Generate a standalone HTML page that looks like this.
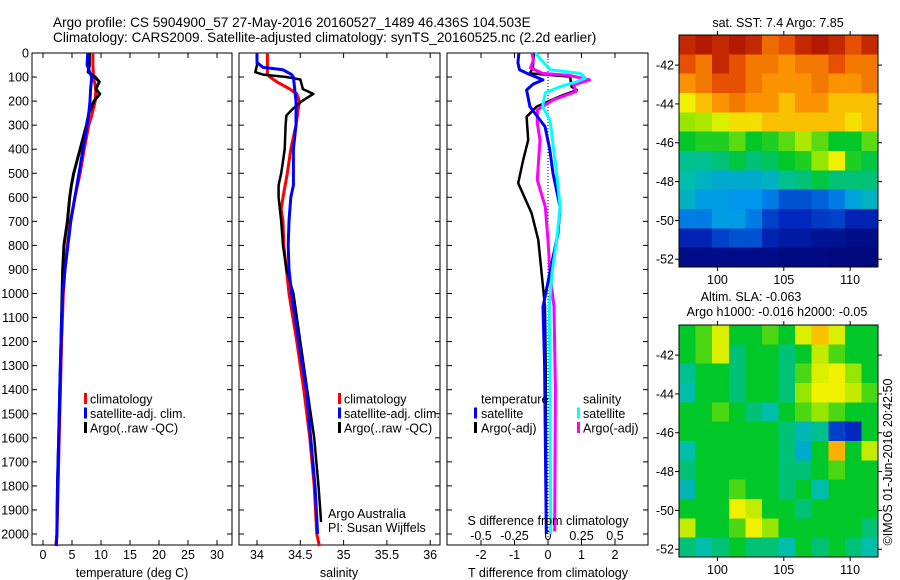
<!DOCTYPE html>
<html><head><meta charset="utf-8"><style>
body{margin:0;background:#fff;}
svg{display:block;font-family:"Liberation Sans",sans-serif;}
text{fill:#000;}
</style></head><body>
<svg id="c" width="900" height="580" viewBox="0 0 900 580" xmlns="http://www.w3.org/2000/svg">
<text x="53" y="27" font-size="13.6">Argo profile: CS 5904900_57 27-May-2016 20160527_1489 46.436S 104.503E</text>
<text x="53" y="42" font-size="13.6">Climatology: CARS2009. Satellite-adjusted climatology: synTS_20160525.nc (2.2d earlier)</text>
<g id="g"></g>
</svg>
<script>
// ---------- data ----------
const depthTicks=[0,100,200,300,400,500,600,700,800,900,1000,1100,1200,1300,1400,1500,1600,1700,1800,1900,2000];
const tempTicks=[0,5,10,15,20,25,30];
const salTicks=[34,34.5,35,35.5,36];
const salTickLabels=["34","34.5","35","35.5","36"];
const tdiffTicks=[-2,-1,0,1,2];
const sdiffTicks=[-0.5,-0.25,0,0.25,0.5];
const sdiffTickLabels=["-0.5","-0.25","0","0.25","0.5"];

const climDepth=[0,50,100,150,200,250,300,400,500,600,700,800,900,1000,1200,1400,1600,1800,2000,2050];
const tempClim=[8.6,8.6,8.7,9.1,9.0,8.5,7.9,7.1,6.4,5.5,4.7,4.2,3.8,3.5,3.2,3.0,2.8,2.6,2.4,2.2];
const tempSat=[7.7,7.6,8.4,8.2,8.1,7.9,7.6,6.9,6.2,5.5,4.8,4.3,3.8,3.4,3.1,2.9,2.7,2.5,2.4,2.3];
const argoDepth=[0,50,80,100,120,150,170,200,250,300,400,500,550,600,700,800,900,1000,1200,1400,1600,1800,1990];
const tempArgo=[8.0,8.0,7.8,9.0,9.7,9.1,9.8,8.8,7.9,7.5,6.4,5.3,4.9,4.6,4.2,3.6,3.4,3.3,3.1,2.9,2.7,2.5,2.4];

const salClimDepth=[0,90,100,120,150,170,200,250,300,400,500,600,650,700,800,900,1000,1200,1400,1600,1800,2000,2050];
const salClim=[34.12,34.12,34.15,34.23,34.38,34.46,34.49,34.47,34.45,34.39,34.35,34.30,34.28,34.30,34.31,34.34,34.37,34.46,34.54,34.61,34.66,34.69,34.72];
const salSatDepth=[0,40,60,70,90,100,200,300,400,500,550,600,700,800,900,1000,1200,1400,1600,1800,2000];
const salSat=[34.0,34.0,34.07,34.3,34.4,34.42,34.45,34.45,34.42,34.42,34.42,34.39,34.37,34.36,34.37,34.40,34.48,34.57,34.62,34.67,34.70];
const salArgoDepth=[0,50,80,90,100,110,150,170,200,230,260,300,400,450,500,550,600,700,800,900,1000,1200,1400,1600,1800,1950];
const salArgo=[34.0,34.0,33.98,34.07,34.34,34.50,34.53,34.65,34.52,34.42,34.34,34.33,34.32,34.30,34.28,34.25,34.25,34.28,34.30,34.34,34.42,34.50,34.58,34.66,34.71,34.74];

const tdSatDepth=[0,40,70,90,112,130,154,223,306,400,500,640,750,850,1055,1300,1600,2000];
const tdSat=[-0.87,-0.9,-0.85,-0.54,-0.15,-0.45,-0.64,-0.54,-0.09,0.05,0.15,0.36,0.3,0.15,-0.15,-0.1,-0.08,-0.05];
const tdArgoDepth=[0,60,85,98,140,154,180,223,265,362,450,541,666,778,915,1055,1300,1600,1990];
const tdArgo=[-0.42,-0.45,-0.54,0.66,0.7,0.86,0.36,-0.34,-0.64,-0.59,-0.75,-0.89,-0.49,-0.29,-0.19,-0.09,-0.07,-0.06,-0.05];
const sdSatDepth=[0,70,85,104,120,140,166,223,279,500,640,778,915,1055,1400,2000];
const sdSat=[-0.095,0.015,0.24,0.28,0.21,0.09,-0.02,-0.04,0.015,0.065,0.09,0.065,0.03,0.01,0.015,0.02];
const sdArgoDepth=[0,29,62,85,93,112,133,160,195,237,291,362,528,640,778,915,1055,1400,1990];
const sdArgo=[-0.12,-0.11,-0.13,-0.04,0.16,0.31,0.19,0.21,0.04,-0.08,-0.08,-0.06,-0.08,-0.02,0,0.015,0.045,0.055,0.05];

const mapLonTicks=[100,105,110];
const mapLatTicks=[-42,-44,-46,-48,-50,-52];
const sstGrid=[
[0.95,0.97,0.95,0.97,0.95,0.86,0.9,0.95,0.97,0.95,0.9,0.95],
[0.9,0.84,0.95,0.9,0.84,0.84,0.8,0.84,0.84,0.9,0.84,0.84],
[0.8,0.84,0.9,0.9,0.84,0.8,0.8,0.8,0.84,0.8,0.8,0.84],
[0.68,0.74,0.8,0.84,0.8,0.8,0.74,0.8,0.8,0.74,0.74,0.74],
[0.6,0.62,0.66,0.7,0.7,0.74,0.74,0.74,0.74,0.74,0.7,0.74],
[0.5,0.52,0.52,0.56,0.5,0.52,0.56,0.62,0.56,0.5,0.5,0.56],
[0.42,0.42,0.44,0.48,0.44,0.46,0.5,0.52,0.6,0.68,0.52,0.48],
[0.4,0.36,0.34,0.34,0.34,0.36,0.42,0.44,0.48,0.44,0.44,0.44],
[0.36,0.3,0.3,0.28,0.28,0.25,0.2,0.2,0.22,0.25,0.32,0.36],
[0.25,0.25,0.3,0.3,0.25,0.18,0.15,0.15,0.17,0.18,0.13,0.13],
[0.13,0.13,0.18,0.2,0.2,0.13,0.1,0.1,0.07,0.07,0.05,0.05],
[0.05,0.05,0.05,0.05,0.05,0.05,0.04,0.04,0.04,0.03,0.03,0.03]];
const slaGrid=[
[.5,.55,.66,.5,.5,.55,.5,.66,.74,.66,.5,.5],
[.5,.55,.66,.44,.5,.5,.44,.5,.64,.55,.5,.5],
[.42,.5,.5,.44,.5,.5,.44,.55,.66,.68,.6,.5],
[.4,.5,.5,.44,.5,.5,.44,.6,.68,.68,.64,.55],
[.5,.5,.55,.5,.44,.4,.5,.55,.6,.55,.5,.5],
[.5,.5,.5,.5,.5,.5,.44,.38,.42,.18,.15,.5],
[.4,.5,.5,.5,.5,.5,.44,.34,.5,.76,.5,.64],
[.44,.5,.5,.5,.5,.5,.44,.44,.5,.55,.5,.5],
[.38,.5,.5,.55,.5,.5,.44,.5,.4,.5,.5,.5],
[.5,.5,.5,.68,.64,.5,.5,.44,.5,.5,.5,.5],
[.64,.5,.5,.55,.68,.6,.5,.5,.5,.5,.5,.44],
[.44,.4,.44,.5,.44,.44,.4,.5,.44,.5,.44,.4]];

// ---------- helpers ----------
const NS="http://www.w3.org/2000/svg";
const G=document.getElementById('g');
function mk(t,a,p){const e=document.createElementNS(NS,t);for(const k in a)e.setAttribute(k,a[k]);(p||G).appendChild(e);return e;}
function txt(x,y,s,fs,anchor,name){const e=mk('text',{x:x,y:y,'font-size':fs,'text-anchor':anchor||'start'});e.textContent=s;


return e;}
const TOP=53,BOT=545;
const yD=d=>TOP+d*0.2405;
const xT=t=>43+t*5.8;
const xS=s=>257+(s-34)*86.6;
const xTd=t=>548+t*33.5;
const xSd=s=>548+s*134;

function panel(x0,x1,name){
  const r=mk('rect',{x:x0,y:TOP,width:x1-x0,height:BOT-TOP,fill:'none',stroke:'#000','stroke-width':1});
  
  
  depthTicks.forEach(d=>{const y=yD(d);
    mk('line',{x1:x0,x2:x0+5,y1:y,y2:y,stroke:'#000'});
    mk('line',{x1:x1-5,x2:x1,y1:y,y2:y,stroke:'#000'});});
}
function xticks(vals,fx,x0,x1,labels,name,top){
  vals.forEach((v,i)=>{const x=fx(v);
    mk('line',{x1:x,x2:x,y1:BOT,y2:BOT-5,stroke:'#000'});
    if(top!==false) mk('line',{x1:x,x2:x,y1:TOP,y2:TOP+5,stroke:'#000'});
    txt(x,559,labels?labels[i]:String(v),12.5,'middle',name);});
}
function line(depths,vals,fx,color,w,name){
  const pts=depths.map((d,i)=>fx(vals[i]).toFixed(1)+','+yD(d).toFixed(1)).join(' ');
  const p=mk('polyline',{points:pts,fill:'none',stroke:color,'stroke-width':w,'stroke-linejoin':'round'});
  
  
}
function marker(x,y,c,name){const r=mk('rect',{x:x,y:y-6,width:3,height:11,fill:c});
  
  }

depthTicks.forEach(d=>txt(29,yD(d)+4.5,String(d),12.5,'end','depth-tick-label'));

// panel 1
panel(32,232,'temperature-panel');
xticks(tempTicks,xT,32,232,null,'temperature-tick-label');
line(climDepth,tempClim,xT,'#f00',3,'temperature-climatology-line');
line(argoDepth,tempArgo,xT,'#000',3,'temperature-argo-line');
line(climDepth,tempSat,xT,'#00f',3,'temperature-satellite-line');
txt(132,577,'temperature (deg C)',12.5,'middle','temperature-axis-title');
[['#f00','climatology'],['#00f','satellite-adj. clim.'],['#000','Argo(..raw -QC)']].forEach((l,i)=>{
  marker(84,399+i*14.5,l[0],'temperature-legend-marker');
  txt(90,403.5+i*14.5,l[1],12.5,'start','temperature-legend-entry');});

// panel 2
panel(239,440,'salinity-panel');
xticks(salTicks,xS,239,440,salTickLabels,'salinity-tick-label');
line(salClimDepth,salClim,xS,'#f00',3,'salinity-climatology-line');
line(salArgoDepth,salArgo,xS,'#000',2.5,'salinity-argo-line');
line(salSatDepth,salSat,xS,'#00f',3,'salinity-satellite-line');
txt(339,577,'salinity',12.5,'middle','salinity-axis-title');
[['#f00','climatology'],['#00f','satellite-adj. clim.'],['#000','Argo(..raw -QC)']].forEach((l,i)=>{
  marker(338,399+i*14.5,l[0],'salinity-legend-marker');
  txt(344,403.5+i*14.5,l[1],12.5,'start','salinity-legend-entry');});
txt(328,518,'Argo Australia',12.5,'start','credit-argo-australia');
txt(328,532,'PI: Susan Wijffels',12.5,'start','credit-pi');

// panel 3
panel(447,648,'difference-panel');
tdiffTicks.forEach(v=>{const x=xTd(v);mk('line',{x1:x,x2:x,y1:BOT,y2:BOT-5,stroke:'#000'});txt(x,559,String(v),12.5,'middle','t-diff-tick-label');});
sdiffTicks.forEach((v,i)=>{const x=xSd(v);mk('line',{x1:x,x2:x,y1:TOP,y2:TOP+5,stroke:'#000'});txt(x,540,sdiffTickLabels[i],12.5,'middle','s-diff-tick-label');});
const zl=mk('line',{x1:548,x2:548,y1:TOP,y2:BOT,stroke:'#000','stroke-dasharray':'1,2'});


line(tdArgoDepth,tdArgo,xTd,'#000',2.5,'t-diff-argo-line');
line(sdArgoDepth,sdArgo,xSd,'#f0f',3,'s-diff-argo-line');
line(tdSatDepth,tdSat,xTd,'#00f',3,'t-diff-satellite-line');
line(sdSatDepth,sdSat,xSd,'#0ff',3,'s-diff-satellite-line');
txt(548,525,'S difference from climatology',12.5,'middle','s-diff-axis-title');
txt(548,577,'T difference from climatology',12.5,'middle','t-diff-axis-title');
txt(481,403.5,'temperature',12.5,'start','legend-temperature-heading');
txt(583,403.5,'salinity',12.5,'start','legend-salinity-heading');
marker(474,413.5,'#00f','legend-t-sat-marker');txt(481,418,'satellite',12.5,'start','legend-t-satellite');
marker(474,428,'#000','legend-t-argo-marker');txt(481,432.5,'Argo(-adj)',12.5,'start','legend-t-argo');
marker(577,413.5,'#0ff','legend-s-sat-marker');txt(583,418,'satellite',12.5,'start','legend-s-satellite');
marker(577,428,'#f0f','legend-s-argo-marker');txt(583,432.5,'Argo(-adj)',12.5,'start','legend-s-argo');

// maps
const cmapStops=[[0,0,0,110],[0.15,0,40,190],[0.28,0,150,240],[0.4,0,190,170],[0.5,0,200,40],[0.6,150,230,0],[0.68,240,240,0],[0.78,255,160,0],[0.9,230,80,0],[1,160,0,0]];
function cmap(v){v=Math.max(0,Math.min(1,v));
  for(let i=1;i<cmapStops.length;i++){const a=cmapStops[i-1],b=cmapStops[i];
    if(v<=b[0]){const f=(v-a[0])/(b[0]-a[0]);
      return 'rgb('+[1,2,3].map(k=>Math.round(a[k]+(b[k]-a[k])*f)).join(',')+')';}}
  return 'rgb(160,0,0)';}
function map(grid,x0,y0,w,h,latTop,latBot,name){
  const g=mk('g',{'shape-rendering':'crispEdges'});
  
  
  const rows=grid.length,cols=grid[0].length,cw=w/cols,ch=h/rows;
  grid.forEach((row,i)=>row.forEach((v,j)=>{
    mk('rect',{x:(x0+j*cw).toFixed(2),y:(y0+i*ch).toFixed(2),width:(cw+0.6).toFixed(2),height:(ch+0.6).toFixed(2),fill:cmap(v)},g);}));
  mk('rect',{x:x0,y:y0,width:w,height:h,fill:'none',stroke:'#000'});
  const lon0=97.1,lon1=112.1;
  const xL=l=>x0+(l-lon0)/(lon1-lon0)*w;
  const yL=l=>y0+(latTop-l)/(latTop-latBot)*h;
  mapLonTicks.forEach(l=>{const x=xL(l);mk('line',{x1:x,x2:x,y1:y0,y2:y0-4,stroke:'#000'});mk('line',{x1:x,x2:x,y1:y0+h,y2:y0+h+4,stroke:'#000'});
    txt(x,y0+h+17,String(l),12.5,'middle','map-lon-tick-label');});
  mapLatTicks.forEach(l=>{const y=yL(l);mk('line',{x1:x0,x2:x0-4,y1:y,y2:y,stroke:'#000'});mk('line',{x1:x0+w,x2:x0+w+4,y1:y,y2:y,stroke:'#000'});
    txt(x0-5,y+4.5,String(l),12.5,'end','map-lat-tick-label');});
}
map(sstGrid,679,35,199,232,-40.45,-52.4,'sst-map');
map(slaGrid,679,325,199,232,-40.45,-52.4,'sla-map');
txt(778,27,'sat. SST: 7.4 Argo: 7.85',12.5,'middle','sst-map-title');
txt(751,301,'Altim. SLA: -0.063',12.5,'middle','sla-map-title');
txt(777,316,'Argo h1000: -0.016 h2000: -0.05',12.5,'middle','sla-map-subtitle');
const im=txt(0,0,'©IMOS 01-Jun-2016 20:42:50',12.5,'middle','imos-timestamp');
im.setAttribute('transform','translate(892,462) rotate(-90)');
</script>
</body></html>
